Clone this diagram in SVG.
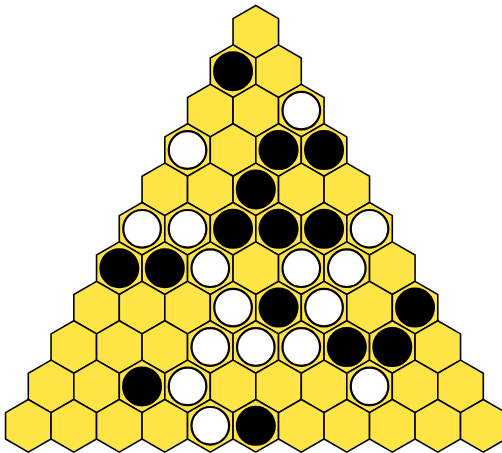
<svg xmlns="http://www.w3.org/2000/svg" xmlns:xlink="http://www.w3.org/1999/xlink" width="502" height="453" viewBox="0 0 502 453">
<style>
.h{fill:#ffe445;stroke:#000;stroke-width:1.6;stroke-linejoin:miter}
.b{fill:#000;stroke:#000;stroke-width:2}
.w{fill:#fff;stroke:#000;stroke-width:2.2}
</style>
<defs>
<polygon id="hex" class="h" points="0,-26.27 22.75,-13.13 22.75,13.13 0,26.27 -22.75,13.13 -22.75,-13.13"/>
<circle id="B" class="b" r="19"/>
<circle id="W" class="w" r="18.8"/>
</defs>
<rect width="502" height="453" fill="#fff"/>
<g id="board">
<g id="r0c0" transform="translate(255.8,31.8)"><use href="#hex"/></g>
<g id="r1c0" transform="translate(233.05,71.2)"><use href="#hex"/><use href="#B"/></g>
<g id="r1c1" transform="translate(278.55,71.2)"><use href="#hex"/></g>
<g id="r2c0" transform="translate(210.3,110.6)"><use href="#hex"/></g>
<g id="r2c1" transform="translate(255.8,110.6)"><use href="#hex"/></g>
<g id="r2c2" transform="translate(301.3,110.6)"><use href="#hex"/><use href="#W"/></g>
<g id="r3c0" transform="translate(187.55,150)"><use href="#hex"/><use href="#W"/></g>
<g id="r3c1" transform="translate(233.05,150)"><use href="#hex"/></g>
<g id="r3c2" transform="translate(278.55,150)"><use href="#hex"/><use href="#B"/></g>
<g id="r3c3" transform="translate(324.05,150)"><use href="#hex"/><use href="#B"/></g>
<g id="r4c0" transform="translate(164.8,189.4)"><use href="#hex"/></g>
<g id="r4c1" transform="translate(210.3,189.4)"><use href="#hex"/></g>
<g id="r4c2" transform="translate(255.8,189.4)"><use href="#hex"/><use href="#B"/></g>
<g id="r4c3" transform="translate(301.3,189.4)"><use href="#hex"/></g>
<g id="r4c4" transform="translate(346.8,189.4)"><use href="#hex"/></g>
<g id="r5c0" transform="translate(142.05,228.8)"><use href="#hex"/><use href="#W"/></g>
<g id="r5c1" transform="translate(187.55,228.8)"><use href="#hex"/><use href="#W"/></g>
<g id="r5c2" transform="translate(233.05,228.8)"><use href="#hex"/><use href="#B"/></g>
<g id="r5c3" transform="translate(278.55,228.8)"><use href="#hex"/><use href="#B"/></g>
<g id="r5c4" transform="translate(324.05,228.8)"><use href="#hex"/><use href="#B"/></g>
<g id="r5c5" transform="translate(369.55,228.8)"><use href="#hex"/><use href="#W"/></g>
<g id="r6c0" transform="translate(119.3,268.2)"><use href="#hex"/><use href="#B"/></g>
<g id="r6c1" transform="translate(164.8,268.2)"><use href="#hex"/><use href="#B"/></g>
<g id="r6c2" transform="translate(210.3,268.2)"><use href="#hex"/><use href="#W"/></g>
<g id="r6c3" transform="translate(255.8,268.2)"><use href="#hex"/></g>
<g id="r6c4" transform="translate(301.3,268.2)"><use href="#hex"/><use href="#W"/></g>
<g id="r6c5" transform="translate(346.8,268.2)"><use href="#hex"/><use href="#W"/></g>
<g id="r6c6" transform="translate(392.3,268.2)"><use href="#hex"/></g>
<g id="r7c0" transform="translate(96.55,307.6)"><use href="#hex"/></g>
<g id="r7c1" transform="translate(142.05,307.6)"><use href="#hex"/></g>
<g id="r7c2" transform="translate(187.55,307.6)"><use href="#hex"/></g>
<g id="r7c3" transform="translate(233.05,307.6)"><use href="#hex"/><use href="#W"/></g>
<g id="r7c4" transform="translate(278.55,307.6)"><use href="#hex"/><use href="#B"/></g>
<g id="r7c5" transform="translate(324.05,307.6)"><use href="#hex"/><use href="#W"/></g>
<g id="r7c6" transform="translate(369.55,307.6)"><use href="#hex"/></g>
<g id="r7c7" transform="translate(415.05,307.6)"><use href="#hex"/><use href="#B"/></g>
<g id="r8c0" transform="translate(73.8,347)"><use href="#hex"/></g>
<g id="r8c1" transform="translate(119.3,347)"><use href="#hex"/></g>
<g id="r8c2" transform="translate(164.8,347)"><use href="#hex"/></g>
<g id="r8c3" transform="translate(210.3,347)"><use href="#hex"/><use href="#W"/></g>
<g id="r8c4" transform="translate(255.8,347)"><use href="#hex"/><use href="#W"/></g>
<g id="r8c5" transform="translate(301.3,347)"><use href="#hex"/><use href="#W"/></g>
<g id="r8c6" transform="translate(346.8,347)"><use href="#hex"/><use href="#B"/></g>
<g id="r8c7" transform="translate(392.3,347)"><use href="#hex"/><use href="#B"/></g>
<g id="r8c8" transform="translate(437.8,347)"><use href="#hex"/></g>
<g id="r9c0" transform="translate(51.05,386.4)"><use href="#hex"/></g>
<g id="r9c1" transform="translate(96.55,386.4)"><use href="#hex"/></g>
<g id="r9c2" transform="translate(142.05,386.4)"><use href="#hex"/><use href="#B"/></g>
<g id="r9c3" transform="translate(187.55,386.4)"><use href="#hex"/><use href="#W"/></g>
<g id="r9c4" transform="translate(233.05,386.4)"><use href="#hex"/></g>
<g id="r9c5" transform="translate(278.55,386.4)"><use href="#hex"/></g>
<g id="r9c6" transform="translate(324.05,386.4)"><use href="#hex"/></g>
<g id="r9c7" transform="translate(369.55,386.4)"><use href="#hex"/><use href="#W"/></g>
<g id="r9c8" transform="translate(415.05,386.4)"><use href="#hex"/></g>
<g id="r9c9" transform="translate(460.55,386.4)"><use href="#hex"/></g>
<g id="r10c0" transform="translate(28.3,425.8)"><use href="#hex"/></g>
<g id="r10c1" transform="translate(73.8,425.8)"><use href="#hex"/></g>
<g id="r10c2" transform="translate(119.3,425.8)"><use href="#hex"/></g>
<g id="r10c3" transform="translate(164.8,425.8)"><use href="#hex"/></g>
<g id="r10c4" transform="translate(210.3,425.8)"><use href="#hex"/><use href="#W"/></g>
<g id="r10c5" transform="translate(255.8,425.8)"><use href="#hex"/><use href="#B"/></g>
<g id="r10c6" transform="translate(301.3,425.8)"><use href="#hex"/></g>
<g id="r10c7" transform="translate(346.8,425.8)"><use href="#hex"/></g>
<g id="r10c8" transform="translate(392.3,425.8)"><use href="#hex"/></g>
<g id="r10c9" transform="translate(437.8,425.8)"><use href="#hex"/></g>
<g id="r10c10" transform="translate(483.3,425.8)"><use href="#hex"/></g>
</g>
<g id="connectors"/>
</svg>
